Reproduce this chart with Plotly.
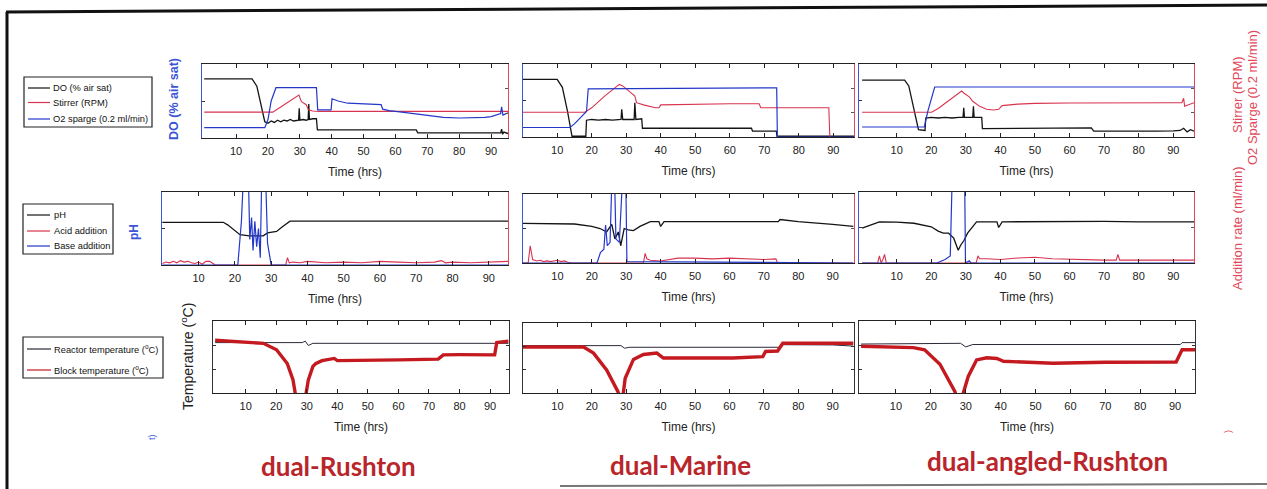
import plotly.graph_objects as go

W, H = 1267, 489

# ---------------- data (time in hrs) ----------------
ticks_time = [10, 20, 30, 40, 50, 60, 70, 80, 90]
impellers = ["dual-Rushton", "dual-Marine", "dual-angled-Rushton"]
legend_row1 = ["DO (% air sat)", "Stirrer (RPM)", "O2 sparge (0.2 ml/min)"]
legend_row2 = ["pH", "Acid addition", "Base addition"]
legend_row3 = ["Reactor temperature (<sup>o</sup>C)", "Block temperature (<sup>o</sup>C)"]

# Row 1: DO (% air sat) on left axis, stirrer / O2 sparge on right axis (relative units 0-100)
rushton_do = [(0, 80), (15, 80), (16.5, 70), (18, 42), (19, 22), (20, 20), (21, 23), (22, 21), (23, 24), (24, 22),
              (25, 24), (26, 23), (27, 25), (28, 23), (29, 24), (29.6, 24), (29.8, 40), (30, 24), (31, 25), (32, 24),
              (32.6, 25), (32.8, 46), (33, 25), (34, 26), (35.2, 26), (35.5, 11), (40, 11), (50, 11), (60, 11),
              (66.5, 11), (67, 7), (75, 7), (85, 6), (90, 6), (92, 6), (93, 7), (93.3, 12), (93.6, 5), (94, 8), (95.3, 6)]
rushton_stirrer = [(0, 35), (21.5, 35), (24, 42), (27, 51), (29.7, 58), (30.5, 49), (32, 45), (32.7, 38), (34, 36.5),
                   (36, 36), (50, 36), (70, 36), (95.3, 36)]
rushton_o2 = [(0, 14), (19, 14), (20, 25), (21, 50), (22.5, 68), (35.2, 68), (35.6, 38), (39.8, 38), (40.1, 53), (42, 50),
              (45, 47), (50, 46), (55.5, 45), (56, 39), (58, 37), (62, 35), (67, 32), (70, 30), (75, 28), (80, 27),
              (85, 27), (88, 28), (90, 29), (92, 31), (93, 33), (93.3, 42), (93.7, 31), (95.3, 34)]

marine_do = [(0, 79), (10, 79), (11.5, 68), (13, 35), (14.3, 1), (18.3, 1), (18.5, 23), (20, 24), (22, 23), (24, 24),
             (26, 23), (28.5, 24), (28.7, 38), (29, 24), (31, 24), (32.3, 24), (32.5, 47), (32.8, 24), (34.5, 25),
             (34.7, 12), (50, 12), (66.3, 12), (66.6, 8), (73.5, 8), (73.7, 1), (96, 1)]
marine_stirrer = [(0, 34), (18, 34), (20, 40), (24, 57), (28, 72), (29, 70), (31.5, 60), (32.5, 56), (33, 47), (35, 44),
                  (38.5, 40), (39.5, 40), (40, 44), (50, 45), (60, 45.5), (68.5, 45.5), (69, 40), (80, 40),
                  (88.7, 40), (89, 0)]
marine_o2 = [(0, 13), (13.7, 13), (15, 18), (17, 27), (18.5, 35), (19, 66), (73.6, 67.5), (73.8, 0), (96, 0)]

angled_do = [(0, 78), (12.3, 78), (13.5, 70), (15, 40), (16.3, 10), (18.2, 9), (18.4, 26), (20, 27), (22, 26), (24, 27),
             (26, 26), (28, 27), (29.2, 27), (29.4, 40), (29.6, 27), (32, 27), (32.2, 42), (32.4, 27), (34.6, 27),
             (34.8, 11.5), (50, 11.5), (60, 11.5), (65.9, 11.5), (66.3, 12.5), (67, 8), (75, 7.8), (85, 8),
             (90, 8.5), (92, 9), (93, 12), (94, 7), (95, 10), (96, 8)]
angled_stirrer = [(0, 34), (20.1, 34), (22, 39), (25, 50), (28.8, 63), (29.5, 60), (31, 55), (32, 49), (34, 42), (36, 38),
                  (38, 37), (39.5, 38), (40.5, 43), (45, 45), (50, 46), (60, 46.5), (70, 47), (80, 47), (90, 47),
                  (92.5, 47), (93, 53), (93.3, 42), (96, 47)]
angled_o2 = [(0, 13.7), (18, 13.7), (19, 35), (21, 68.5), (96, 68.5)]

# Row 2: pH on left axis, acid / base addition rate (ml/min) on right axis
rushton_ph = [(0, 7.17), (16.8, 7.17), (18, 7.10), (21.4, 6.83), (24, 6.80), (27.8, 6.80), (29, 6.88), (31.5, 6.92),
              (33, 7.04), (35.2, 7.20), (50, 7.20), (70, 7.20), (72, 7.18), (72.5, 7.20), (95.3, 7.20)]
rushton_acid = [(0, 0.02), (1, 0.04), (2, 0.03), (3, 0.05), (4, 0.03), (5, 0.06), (6, 0.04), (7, 0.05), (8, 0.03),
                (9, 0.02), (10, 0.04), (11, 0.01), (12, 0.05), (13, 0.05), (14, 0.02), (14.5, 0), (34, 0),
                (34.5, 0.1), (35, 0.03), (36, 0.04), (38, 0.03), (40, 0.05), (45, 0.03), (50, 0.04), (55, 0.03),
                (60, 0.05), (65, 0.04), (70, 0.03), (75, 0.04), (77, 0.06), (78, 0.03), (80, 0.04), (85, 0.03),
                (90, 0.04), (95.3, 0.05)]
rushton_base = [(0, 0), (20.8, 0), (21.8, 0.6), (22.6, 1.5), (23.6, 1.5), (24.1, 0.35), (24.6, 0.65), (25, 0.2),
                (25.5, 0.6), (26, 0.25), (26.5, 0.5), (27, 0.1), (27.5, 1.5), (28.3, 1.5), (29, 0.3), (30, 0),
                (95.3, 0)]

marine_ph = [(0, 7.15), (10, 7.15), (15, 7.13), (20, 7.06), (22.4, 7.00), (24.3, 6.90), (25.8, 7.12), (26.7, 6.70),
             (27.7, 6.90), (28.4, 6.50), (29.4, 7.00), (30.6, 6.96), (32.1, 6.94), (34, 7.06), (37, 7.20),
             (39.5, 7.20), (40, 7.06), (41, 7.20), (50, 7.20), (60, 7.20), (74.2, 7.20), (74.7, 7.26), (80, 7.20),
             (90, 7.12), (96, 7.06)]
marine_acid = [(0, 0), (1.5, 0), (2.1, 0.25), (2.8, 0.05), (4, 0.03), (5, 0.04), (6, 0.02), (7, 0.03), (8, 0.02),
               (9, 0.03), (10, 0.04), (11, 0.02), (12, 0.03), (13, 0.01), (14, 0), (35, 0), (35.5, 0.14),
               (36, 0.06), (37, 0.04), (40, 0.03), (43, 0.05), (45, 0.07), (50, 0.07), (55, 0.06), (60, 0.07),
               (65, 0.06), (70, 0.05), (73.5, 0.06), (74, 0), (96, 0)]
marine_base = [(0, 0), (21.5, 0), (22.5, 0.15), (23.5, 0.2), (24, 0.55), (24.5, 0.25), (25.3, 0.3), (26, 1.5),
               (26.5, 1.5), (27, 0.35), (28, 0.3), (29.2, 1.5), (29.8, 1.5), (30.2, 0.02), (96, 0)]

angled_ph = [(0, 6.98), (3, 7.10), (5, 7.16), (10, 7.15), (15, 7.12), (20, 7.02), (22, 6.90), (23.5, 6.84), (25, 6.84),
             (26.5, 6.70), (27.8, 6.36), (28.5, 6.50), (29.5, 6.64), (30.5, 6.84), (31.5, 6.96), (33.1, 7.16),
             (39, 7.16), (39.5, 7.00), (40.5, 7.16), (50, 7.17), (60, 7.16), (70, 7.17), (80, 7.16), (90, 7.17),
             (96, 7.16)]
angled_acid = [(0, 0), (4.5, 0), (5, 0.1), (5.5, 0), (6, 0.05), (6.5, 0.12), (7, 0), (33, 0), (33.5, 0.1), (34, 0.06),
               (36, 0.06), (40, 0.05), (45, 0.07), (50, 0.08), (55, 0.06), (60, 0.05), (65, 0.04), (70, 0.04),
               (73.5, 0.04), (74, 0.12), (74.5, 0.04), (80, 0.04), (85, 0.05), (90, 0.04), (95, 0.05), (96, 0.04)]
angled_base = [(0, 0), (21.6, 0), (24, 0.05), (25.5, 0.1), (26.2, 1.5), (29.6, 1.5), (29.9, 0), (31, 0.03), (31.5, 0),
               (96, 0)]

# Row 3: reactor / block temperature (deg C)
rushton_reactor = [(0, 35.5), (20, 35.5), (28.5, 35.5), (29.5, 35.8), (30.5, 34.9), (32, 35.35), (96, 35.35)]
rushton_block = [(0, 36.0), (10, 35.65), (15.8, 35.35), (20.1, 34.0), (23.6, 31.15), (25.5, 27.7), (26.6, 23.5),
                 (29.4, 23.5), (30.5, 27.7), (32, 30.55), (33, 31.15), (35, 31.75), (39, 32.2), (40, 31.75),
                 (50, 31.9), (60, 31.9), (73, 32.05), (74.7, 32.95), (80, 33.0), (90, 32.95), (91.5, 32.95),
                 (92.2, 35.5), (96, 35.8)]
marine_reactor = [(0, 35.15), (28.5, 35.15), (29.5, 34.6), (31, 34.8), (74.5, 34.8), (75.5, 35.35), (90, 35.3),
                  (96, 35.05)]
marine_block = [(0, 34.85), (15, 34.9), (17.6, 34.85), (20.5, 33.55), (24.3, 29.95), (27.6, 25.3), (28.2, 23.5),
                (28.9, 23.5), (29.7, 28.15), (32.1, 32.2), (35, 33.25), (38.9, 33.55), (40.8, 32.5), (50, 32.5),
                (61, 32.5), (69.7, 32.8), (70.5, 33.9), (74, 34.0), (75.5, 35.65), (96, 35.65)]
angled_reactor = [(0, 35.2), (28, 35.2), (28.5, 35.35), (30, 34.6), (32, 35.1), (91.5, 35.1), (92, 35.5), (96, 35.5)]
angled_block = [(0, 34.75), (15, 34.45), (18.2, 34.0), (22.6, 31.0), (26.9, 25.3), (27.6, 23.5), (28.8, 23.5),
                (29.3, 25.0), (30.7, 28.45), (33.1, 31.9), (36, 32.35), (38.9, 32.2), (40.8, 31.6), (55, 31.2),
                (70, 31.4), (90.3, 31.45), (92, 34.0), (96, 34.0)]

# ---------------- styling / layout ----------------
BLACK = "#141414"
RED = "#d8344f"
BLUE = "#2437c9"
BLOCK_RED = "#c41a1f"
REACTOR = "#2a2a3a"
AX_BLUE = "#3a55d6"
AX_RED = "#e0485a"
TITLE_RED = "#b8252a"
FONT = "Liberation Sans"


def fx(px):
    return px / W


def fy(py):
    return 1 - py / H


# panel boxes in pixels: (x0, x1, y0, y1) and x-range
panels = [
    [(202, 508, 64, 138, -0.7, 95.3), (523, 854, 64, 137, 0.1, 96), (859, 1194, 64, 137, -0.9, 96)],
    [(162, 508, 192, 265, -0.1, 95.3), (523, 854, 194, 263, 0.0, 96.2), (859, 1194, 192, 263, -0.9, 96)],
    [(213, 509, 321, 393, -0.7, 96.2), (523, 854, 323, 393, 0.0, 96.2), (859, 1195, 321, 393, -0.6, 95.7)],
]

row_series = [
    [(rushton_do, rushton_stirrer, rushton_o2), (marine_do, marine_stirrer, marine_o2),
     (angled_do, angled_stirrer, angled_o2)],
    [(rushton_ph, rushton_acid, rushton_base), (marine_ph, marine_acid, marine_base),
     (angled_ph, angled_acid, angled_base)],
    [(rushton_reactor, rushton_block), (marine_reactor, marine_block), (angled_reactor, angled_block)],
]

fig = go.Figure()
layout = {}


def xy(pts):
    return [p[0] for p in pts], [p[1] for p in pts]


for r in range(3):
    for c in range(3):
        k = r * 3 + c + 1
        x0, x1, y0, y1, t0, t1 = panels[r][c]
        xname = "xaxis" if k == 1 else f"xaxis{k}"
        yname = "yaxis" if k == 1 else f"yaxis{k}"
        layout[xname] = dict(
            domain=[fx(x0), fx(x1)], anchor=f"y{k}", range=[t0, t1], tickvals=ticks_time,
            ticks="inside", ticklen=4, tickcolor="#222", tickwidth=1,
            showline=True, linecolor="#222", linewidth=1.2, mirror="ticks",
            showgrid=False, zeroline=False, ticklabelstandoff=3,
            tickfont=dict(family=FONT, size=11, color="#222"),
            title=dict(text="Time (hrs)", font=dict(family=FONT, size=12, color="#222"), standoff=11),
        )
        left_color = AX_BLUE if r < 2 else "#333"
        if r == 0:
            yr, ytv = [0, 100], [50]
        elif r == 1:
            yr, ytv = [6, 8], [7]
        else:
            yr, ytv = [25, 40], [30, 35]
        layout[yname] = dict(
            domain=[fy(y1), fy(y0)], anchor=f"x{k}", range=yr, tickvals=ytv,
            ticks="inside", ticklen=3, tickcolor="#333", showticklabels=False,
            showline=True, linecolor=left_color, linewidth=1.2,
            mirror=("ticks" if r == 2 else False), showgrid=False, zeroline=False,
        )
        if r < 2:
            rk = 9 + r * 3 + c + 1
            layout[f"yaxis{rk}"] = dict(
                overlaying=f"y{k}", anchor=f"x{k}", side="right",
                range=([0, 100] if r == 0 else [0, 1]),
                tickvals=([33.3, 66.7] if r == 0 else [0.5]),
                ticks="inside", ticklen=3, tickcolor="#555", showticklabels=False,
                showline=True, linecolor=AX_RED, linewidth=1.2, showgrid=False, zeroline=False,
            )
            a, b, d = row_series[r][c]
            names = legend_row1 if r == 0 else legend_row2
            tx, ty = xy(a)
            fig.add_trace(go.Scatter(x=tx, y=ty, mode="lines", name=names[0], xaxis=f"x{k}", yaxis=f"y{k}",
                                     line=dict(color=BLACK, width=1.3)))
            tx, ty = xy(b)
            fig.add_trace(go.Scatter(x=tx, y=ty, mode="lines", name=names[1], xaxis=f"x{k}", yaxis=f"y{rk}",
                                     line=dict(color=RED, width=1.1)))
            tx, ty = xy(d)
            fig.add_trace(go.Scatter(x=tx, y=ty, mode="lines", name=names[2], xaxis=f"x{k}", yaxis=f"y{rk}",
                                     line=dict(color=BLUE, width=1.2)))
        else:
            a, b = row_series[r][c]
            tx, ty = xy(a)
            fig.add_trace(go.Scatter(x=tx, y=ty, mode="lines", name=legend_row3[0],
                                     xaxis=f"x{k}", yaxis=f"y{k}", line=dict(color=REACTOR, width=1)))
            tx, ty = xy(b)
            fig.add_trace(go.Scatter(x=tx, y=ty, mode="lines", name=legend_row3[1],
                                     xaxis=f"x{k}", yaxis=f"y{k}", line=dict(color=BLOCK_RED, width=3.4)))

annotations = []
shapes = []


def label(text, px, py, size, color, angle=-90, bold=False, family=FONT, xanchor="center"):
    annotations.append(dict(
        text=(f"<b>{text}</b>" if bold else text), x=fx(px), y=fy(py), xref="paper", yref="paper",
        showarrow=False, textangle=angle, font=dict(family=family, size=size, color=color),
        xanchor=xanchor, yanchor="middle"))


def seg(px0, py0, px1, py1, color, width, dash="solid"):
    shapes.append(dict(type="line", xref="paper", yref="paper", x0=fx(px0), y0=fy(py0), x1=fx(px1), y1=fy(py1),
                       line=dict(color=color, width=width, dash=dash)))


# legend boxes (drawn to match the compact MATLAB legends)
legend_specs = [
    ((24, 77, 152, 127), 28, 50, 51, list(zip(legend_row1, [BLACK, RED, BLUE], [88, 102.5, 119]))),
    ((23, 204, 113, 254), 27, 50, 52, list(zip(legend_row2, [BLACK, RED, BLUE], [215, 231, 246]))),
    ((23, 337, 163, 378), 27, 51, 52, list(zip(legend_row3, [REACTOR, BLOCK_RED], [349, 370]))),
]
for (bx0, by0, bx1, by1), lx0, lx1, tx0, items in legend_specs:
    shapes.append(dict(type="rect", xref="paper", yref="paper", x0=fx(bx0), y0=fy(by1), x1=fx(bx1), y1=fy(by0),
                       line=dict(color="#222", width=1.2), fillcolor="white"))
    for text, col, py in items:
        seg(lx0, py, lx1, py, col, 1.2)
        label(text, tx0, py, 9.3, "#111", angle=0, xanchor="left")

label("DO (% air sat)", 174, 99, 12.5, AX_BLUE, bold=True)
label("pH", 134, 232, 12, AX_BLUE, bold=True)
label("Temperature (<sup>o</sup>C)", 187, 357, 14, "#222")
label("Stirrer (RPM)", 1237, 95, 13, AX_RED)
label("O2 Sparge (0.2 ml/min)", 1252, 98, 13, AX_RED)
label("Addition rate (ml/min)", 1237, 228, 13, AX_RED)
label("t)", 152, 437, 9, AX_BLUE)
label(")", 1228, 432, 9, AX_RED)

title_pos = [(338, 466), (680, 465), (1047, 461)]
for name, (px, py) in zip(impellers, title_pos):
    label(name, px, py, 26, TITLE_RED, angle=0, bold=True, family="Lato")

# page frame of the scanned figure
seg(7, 12, 7, 489, "#111", 3)
seg(6, 12, 1267, 5, "#111", 3)
seg(560, 486, 1267, 484, "#777", 2)

fig.update_layout(
    width=W, height=H, autosize=False, margin=dict(l=0, r=0, t=0, b=0),
    paper_bgcolor="white", plot_bgcolor="white", showlegend=False,
    font=dict(family=FONT, color="#222"),
    annotations=annotations, shapes=shapes, **layout,
)

fig.write_html("out.html", config={"displayModeBar": False},
               post_script="document.body.style.margin='0px';document.body.style.overflow='hidden';")
